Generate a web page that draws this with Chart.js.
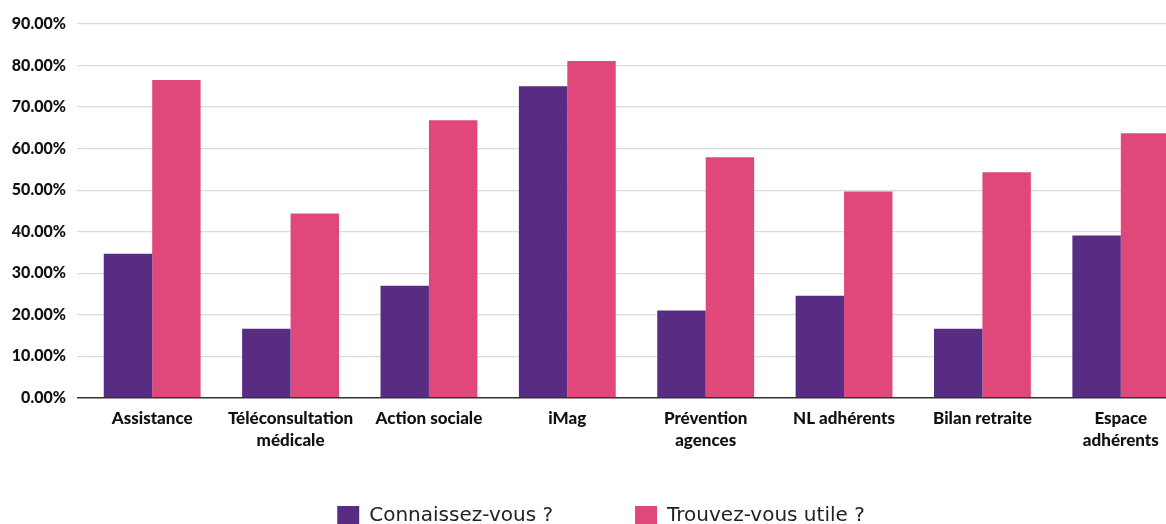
<!DOCTYPE html>
<html>
<head>
<meta charset="utf-8">
<script src="https://cdn.jsdelivr.net/npm/chart.js@4"></script>
<style>
  html, body { margin: 0; padding: 0; background: #fff; overflow: hidden; }
  #wrap { width: 1192px; height: 533px; }
</style>
</head>
<body>
<div id="wrap"><canvas id="usageChart"></canvas></div>
<script>
const categories = ['Assistance', ['Téléconsultation', 'médicale'], 'Action sociale', 'iMag',
    ['Prévention', 'agences'], 'NL adhérents', 'Bilan retraite', ['Espace', 'adhérents']];
const connaissezVous = [34.7, 16.6, 27.0, 75.0, 21.0, 24.6, 16.6, 39.1];
const trouvezUtile = [76.5, 44.4, 66.8, 81.1, 57.9, 49.7, 54.3, 63.7];
const yTicks = [0, 10, 20, 30, 40, 50, 60, 70, 80, 90];

const purple = '#582c83';
const pink = '#e0487b';

// legend sits right under the axis labels, partly cut by the window
const legendShift = {
    id: 'legendShift',
    afterLayout(chart) {
        const lg = chart.legend;
        lg.top = chart.scales.x.bottom - 30;
        lg.bottom = chart.height;
    }
};

const ctx = document.getElementById('usageChart').getContext('2d');

const usageChart = new Chart(ctx, {
    type: 'bar',
    data: {
        labels: categories,
        datasets: [{
            label: 'Connaissez-vous ?',
            data: connaissezVous,
            backgroundColor: purple,
            borderWidth: 0
        }, {
            label: 'Trouvez-vous utile ?',
            data: trouvezUtile,
            backgroundColor: pink,
            borderWidth: 0
        }]
    },
    options: {
        responsive: true,
        maintainAspectRatio: false,
        animation: false,
        layout: { padding: { left: 12, top: 24, right: 2, bottom: 0 } },
        datasets: {
            bar: { categoryPercentage: 0.7, barPercentage: 1.0 }
        },
        scales: {
            x: {
                grid: { display: false },
                border: { display: false },
                ticks: {
                    color: '#111',
                    padding: 2,
                    maxRotation: 0,
                    autoSkip: false,
                    font: { family: 'Lato', weight: 900, size: 17, lineHeight: 1.3 }
                }
            },
            y: {
                min: 0,
                max: 90,
                afterFit(scale) { scale.width = 71; },
                afterBuildTicks(scale) { scale.ticks = yTicks.map(v => ({ value: v })); },
                border: { display: false },
                grid: {
                    color: c => c.tick && c.tick.value === 0 ? '#333' : '#dcdcdc',
                    lineWidth: c => c.tick && c.tick.value === 0 ? 1.5 : 1.2,
                    tickLength: 6
                },
                ticks: {
                    color: '#111',
                    padding: 11,
                    font: { family: 'Lato', weight: 900, size: 16 },
                    callback: v => v.toFixed(2) + '%'
                }
            }
        },
        plugins: {
            tooltip: { enabled: false },
            legend: {
                position: 'bottom',
                maxHeight: 79,
                labels: {
                    boxWidth: 22,
                    boxHeight: 20,
                    padding: 82,
                    color: '#222',
                    font: { family: 'DejaVu Sans', size: 20 }
                }
            }
        }
    },
    plugins: [legendShift]
});
</script>
</body>
</html>
